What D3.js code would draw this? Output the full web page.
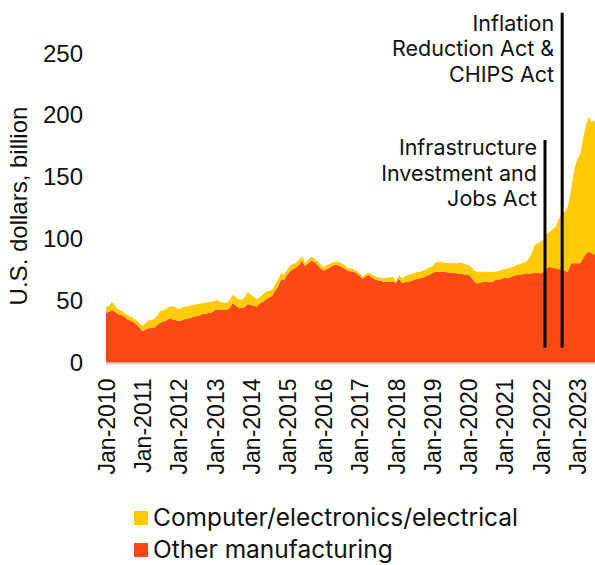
<!DOCTYPE html>
<html>
<head>
<meta charset="utf-8">
<script src="https://cdn.jsdelivr.net/npm/d3@7"></script>
<style>
  body { margin: 0; background: #fff; }
  svg { display: block; }
</style>
</head>
<body>
<div id="chart"></div>
<script>
// monthly values, Jan-2010 .. Jul-2023, U.S. dollars billion
var otherManufacturing = [
    40.3, 41, 42.5, 41, 39.2, 38.5, 37.5, 35, 34, 33, 30.9, 28.5,
    25.5, 26.5, 27.7, 28, 28.2, 30, 32.2, 33, 34, 35.7, 35, 34.4,
    33.6, 34, 35, 35.5, 36, 37, 37.5, 38, 39.2, 39.5, 40, 40.3,
    42.5, 43, 42.5, 42.5, 42.5, 44, 47.9, 46, 44.3, 44.3, 45, 47.3,
    46.5, 46, 45.2, 48, 49, 51, 52.5, 53.8, 58, 61.3, 67.3, 66.7,
    71, 74, 75.5, 77, 79, 82.4, 78, 80, 82.4, 81.5, 79, 76.5,
    74.3, 75.5, 76.5, 78.5, 79, 78.5, 77.5, 76, 74, 73.8, 73.5, 72,
    70, 68, 69.5, 70.8, 69, 67.3, 66.5, 66, 65.4, 65.4, 65.4, 65.5,
    64.6, 68, 64.6, 65, 65.4, 66, 66.7, 67.5, 68.1, 68.6, 70, 70.8,
    72.2, 73.5, 73.5, 73.5, 73.5, 73, 72.7, 72.5, 72.2, 71.8, 71.6, 71,
    70.8, 69, 65.5, 64, 64.5, 65.4, 65.4, 65, 65.4, 66.7, 67, 67.5,
    68.5, 68.1, 69, 70, 70.8, 71, 71.5, 72.2, 72, 72.2, 72.5, 72.5,
    72.2, 73.5, 76.2, 77.5, 76.5, 76.2, 75.5, 74.8, 74, 73.5, 80.3, 80.3,
    80.3, 80.3, 84, 88, 89.6, 88.3, 87
];
var computerElectronics = [
    4.4, 5, 6.7, 5, 3.8, 3.5, 3, 3.4, 3.5, 3, 3.5, 3.5,
    4.3, 5, 6.1, 6.5, 6.8, 8, 9.5, 9.5, 9.5, 9.5, 10.5, 10.3,
    9.4, 10, 10.2, 10, 10, 9.8, 9.5, 9.5, 8.7, 9, 9, 8.9,
    7.5, 7.6, 6.5, 6, 5.4, 7, 6.7, 7, 6.7, 6.7, 8, 10,
    8.1, 7, 5.8, 5, 6, 6.3, 5.5, 4.9, 5, 6, 4.9, 4.7,
    4, 4.5, 4, 3.7, 4, 3.8, 2.3, 3, 3.2, 3, 3, 3,
    2.7, 3, 3, 2.5, 2.6, 3, 2.8, 3, 2.5, 2.2, 1.9, 2,
    2.2, 1.4, 2, 1.9, 2.5, 2.7, 2.5, 2.5, 2.7, 3.1, 3.2, 3.9,
    0.8, 2.8, 3.5, 4.5, 5.4, 5.5, 5.5, 5.5, 5.4, 5.7, 5.5, 6.2,
    5.3, 7.2, 8.1, 8.1, 7.2, 7.5, 7.6, 7.8, 8.1, 8.7, 9.1, 8.5,
    8.1, 8, 8.5, 9.5, 9, 8.1, 8.1, 8, 8.1, 6.8, 7, 7.5,
    7, 8.1, 8, 7.5, 8.1, 8.5, 9, 9.4, 12, 16.1, 22.5, 23.9,
    25.5, 26.5, 27.8, 28.3, 31.5, 33.8, 40.5, 45.9, 48, 52.5, 59.7, 74.7,
    83.7, 87.7, 96, 104, 109.4, 106.2, 109
];
var seriesNames = ["Computer/electronics/electrical", "Other manufacturing"];
var yTicks = [0, 50, 100, 150, 200, 250];
var xTickYears = [2010, 2011, 2012, 2013, 2014, 2015, 2016, 2017, 2018, 2019, 2020, 2021, 2022, 2023];
var events = [
    {date: "2022-02-12", top: 180, bottom: 12, textDy: 15, lines: ["Infrastructure", "Investment and", "Jobs Act"]},
    {date: "2022-08-04", top: 283, bottom: 12, textDy: 18, lines: ["Inflation", "Reduction Act &", "CHIPS Act"]}
];

var width = 595, height = 565;
var orange = "#fd4a15", yellow = "#ffcb05";
var parseDay = d3.timeParse("%Y-%m-%d");

var months = d3.timeMonth.range(new Date(2010, 0, 1), new Date(2023, 7, 1));
var data = months.map(function (m, i) {
    return {date: m, other: otherManufacturing[i], computer: computerElectronics[i]};
});

var svg = d3.select("#chart").append("svg")
    .attr("width", width)
    .attr("height", height);

var x = d3.scaleTime()
    .domain([months[0], months[months.length - 1]])
    .range([106, 595]);
var y = d3.scaleLinear().domain([0, 250]).range([362.5, 53.5]);

var stacked = d3.stack().keys(["other", "computer"])(data);
var area = d3.area()
    .x(function (d) { return x(d.data.date); })
    .y0(function (d) { return y(d[0]); })
    .y1(function (d) { return y(d[1]); });

// light baseline under the areas
svg.append("line")
    .attr("x1", 106).attr("x2", 595)
    .attr("y1", y(0) + 1).attr("y2", y(0) + 1)
    .attr("stroke", "#d4d4d4")
    .attr("stroke-width", 2);

svg.append("g").selectAll("path")
    .data(stacked)
    .enter().append("path")
    .attr("d", area)
    .attr("fill", function (d) { return d.key == "other" ? orange : yellow; });

// y axis
var yAxis = d3.axisLeft(y).tickValues(yTicks).tickSize(0).tickPadding(23);
var yg = svg.append("g")
    .attr("transform", "translate(106,0)")
    .call(yAxis);
yg.select(".domain").remove();
yg.selectAll("text")
    .style("font-family", "Liberation Sans, Arial, sans-serif")
    .style("font-size", "24px")
    .attr("fill", "#111");

svg.append("text")
    .attr("transform", "translate(27," + 206 + ") rotate(-90)")
    .attr("text-anchor", "middle")
    .style("font-family", "Liberation Sans, Arial, sans-serif")
    .style("font-size", "24px")
    .attr("fill", "#111")
    .text("U.S. dollars, billion");

// x axis
var xAxis = d3.axisBottom(x)
    .tickValues(xTickYears.map(function (yr) { return new Date(yr, 0, 1); }))
    .tickFormat(d3.timeFormat("Jan-%Y"))
    .tickSize(0);
var xg = svg.append("g")
    .attr("transform", "translate(0," + y(0) + ")")
    .call(xAxis);
xg.select(".domain").remove();
xg.selectAll("text")
    .attr("transform", "rotate(-90)")
    .attr("text-anchor", "end")
    .attr("x", -16)
    .attr("y", 0)
    .attr("dy", "0.36em")
    .style("font-family", "Liberation Sans, Arial, sans-serif")
    .style("font-size", "23px")
    .attr("fill", "#111");

// event markers
events.forEach(function (ev) {
    var ex = x(parseDay(ev.date));
    svg.append("line")
        .attr("x1", ex).attr("x2", ex)
        .attr("y1", y(ev.top)).attr("y2", y(ev.bottom))
        .attr("stroke", "#000")
        .attr("stroke-width", 3);
    var t = svg.append("text")
        .attr("text-anchor", "end")
        .style("font-family", "Inter, sans-serif")
        .style("font-size", "21.5px")
        .attr("fill", "#111");
    ev.lines.forEach(function (ln, k) {
        t.append("tspan")
            .attr("x", ex - 8)
            .attr("y", y(ev.top) + ev.textDy + k * 25.5)
            .text(ln);
    });
});

// legend
var legend = svg.append("g").attr("transform", "translate(134,511)");
var legendColors = [yellow, orange];
seriesNames.forEach(function (name, i) {
    var row = legend.append("g").attr("transform", "translate(0," + i * 32 + ")");
    row.append("rect")
        .attr("width", 14).attr("height", 14)
        .attr("fill", legendColors[i]);
    row.append("text")
        .attr("x", 19).attr("y", 15)
        .style("font-family", "Inter, sans-serif")
        .style("font-size", "24.5px")
        .attr("fill", "#111")
        .text(name);
});
</script>
</body>
</html>
